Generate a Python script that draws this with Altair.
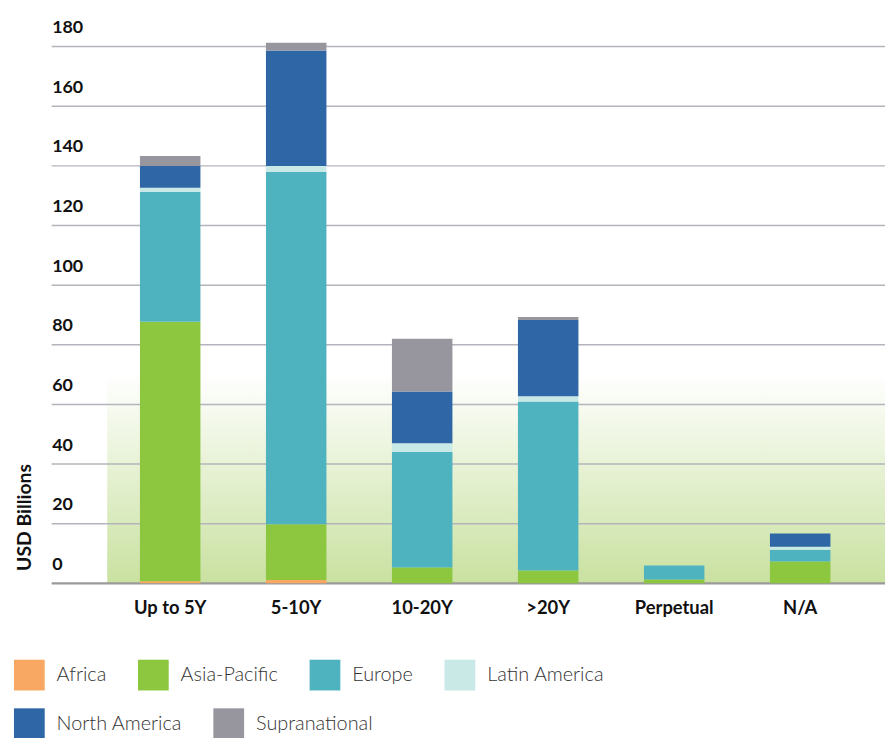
import altair as alt
import pandas as pd

categories = ["Up to 5Y", "5-10Y", "10-20Y", ">20Y", "Perpetual", "N/A"]
regions = ["Africa", "Asia-Pacific", "Europe", "Latin America", "North America", "Supranational"]
colors = ["#f8a862", "#8dc63f", "#4fb3bf", "#c8e9e6", "#2e66a6", "#97969f"]

africa = [0.7, 1.1, 0.0, 0.0, 0.0, 0.0]
asia_pacific = [87.0, 18.7, 5.3, 4.3, 1.3, 7.3]
europe = [43.6, 118.2, 38.7, 56.7, 4.7, 4.0]
latin_america = [1.4, 2.0, 3.0, 1.7, 0.0, 1.0]
north_america = [7.3, 38.7, 17.3, 25.6, 0.0, 4.4]
supranational = [3.3, 2.6, 17.7, 1.0, 0.0, 0.0]

y_ticks = [0, 20, 40, 60, 80, 100, 120, 140, 160, 180]
band_range = [0, 70]

series = [africa, asia_pacific, europe, latin_america, north_america, supranational]
rows = []
for ri, (reg, vals) in enumerate(zip(regions, series)):
    for cat, v in zip(categories, vals):
        rows.append({"category": cat, "region": reg, "value": v, "order": ri})
df = pd.DataFrame(rows)

yscale = alt.Scale(domain=[0, 180], nice=False, zero=True)
yaxis = alt.Axis(values=y_ticks, grid=False, domain=False, ticks=False, tickSize=0,
                 labelAlign="left", labelBaseline="bottom", labelPadding=0,
                 labelOffset=-10, labelFont="Lato", labelFontWeight="bold",
                 labelFontSize=18, labelColor="#111111",
                 title="USD Billions", titleFont="Lato", titleFontWeight="bold",
                 titleFontSize=19.5, titleColor="#111111", titleX=-27, titleY=528,
                 titleAngle=270, titleAlign="left", titleBaseline="middle")
xaxis = alt.Axis(title=None, labelAngle=0, domain=False, ticks=False, tickSize=0,
                 labelPadding=15, labelFont="Lato", labelFontWeight="bold",
                 labelFontSize=18.5, labelColor="#111111")
xscale = alt.Scale(paddingInner=0.52, paddingOuter=0.567, align=0.618)

bg = alt.Chart(pd.DataFrame({"lo": [band_range[0]], "hi": [band_range[1]]})).mark_rect(
    color=alt.Gradient(
        gradient="linear",
        stops=[alt.GradientStop(color="#ffffff", offset=0),
               alt.GradientStop(color="#c9e1a0", offset=1)],
        x1=0, x2=0, y1=0, y2=1,
    )
).encode(
    x=alt.value(56), x2=alt.value(840),
    y=alt.Y("hi:Q", scale=yscale, axis=yaxis), y2="lo:Q",
)

grid_df = pd.DataFrame({"v": y_ticks, "zero": [t == 0 for t in y_ticks]})
grid = alt.Chart(grid_df).mark_rule().encode(
    y=alt.Y("v:Q", scale=yscale, axis=yaxis),
    color=alt.condition("datum.zero", alt.value("#9a9a9a"), alt.value("#b4b4bd")),
    strokeWidth=alt.condition("datum.zero", alt.value(2.2), alt.value(1.5)),
)

legend_common = dict(orient="none", direction="horizontal", columns=4, title=None,
                     symbolType="square", symbolSize=961, symbolStrokeWidth=0,
                     symbolOpacity=1, labelFont="Lato", labelFontSize=20,
                     labelFontWeight=300, labelColor="#333333", labelOffset=12,
                     columnPadding=31, padding=0, offset=0, labelLimit=300)

base = alt.Chart(df).transform_stack(
    stack="value", groupby=["category"], as_=["y0", "y1"],
    sort=[alt.SortField("order", order="ascending")],
)

bars_a = base.transform_filter("datum.order < 4").mark_bar().encode(
    x=alt.X("category:N", sort=categories, scale=xscale, axis=xaxis),
    y=alt.Y("y1:Q", scale=yscale, axis=yaxis),
    y2="y0:Q",
    color=alt.Color("region:N", scale=alt.Scale(domain=regions[:4], range=colors[:4]),
                    legend=alt.Legend(legendX=-38, legendY=618, **legend_common)),
)

bars_b = base.transform_filter("datum.order >= 4").mark_bar().encode(
    x=alt.X("category:N", sort=categories, scale=xscale, axis=xaxis),
    y=alt.Y("y1:Q", scale=yscale, axis=yaxis),
    y2="y0:Q",
    fill=alt.Fill("region:N", scale=alt.Scale(domain=regions[4:], range=colors[4:]),
                  legend=alt.Legend(legendX=-38, legendY=667, **legend_common)),
)

chart = alt.layer(bg, grid, bars_a, bars_b).resolve_scale(
    color="independent", fill="independent"
).properties(
    width=840, height=541,
    autosize=alt.AutoSizeParams(type="none"),
    padding={"left": 44, "top": 36, "right": 0, "bottom": 153},
).configure_view(stroke=None)

chart.save("out.html", embed_options={"renderer": "svg", "actions": False})
